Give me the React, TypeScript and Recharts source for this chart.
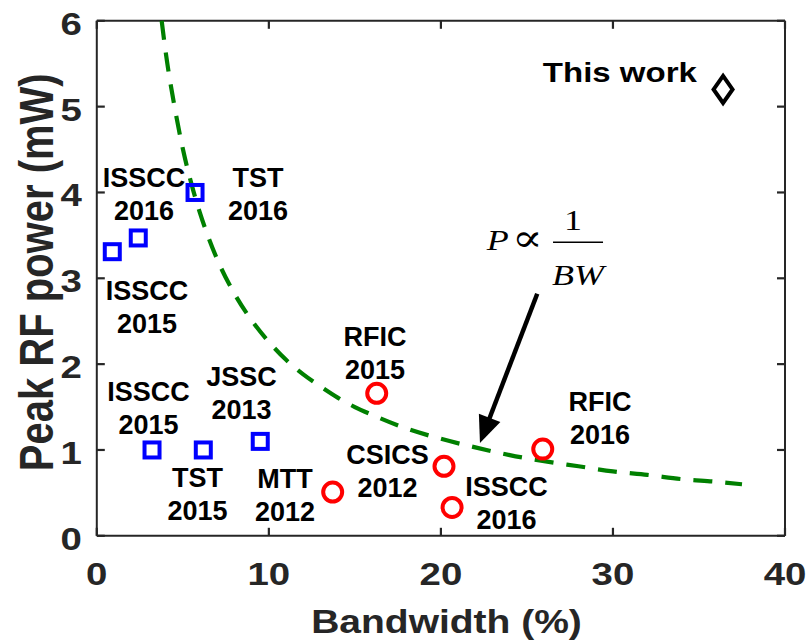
import React from 'react';
import { ScatterChart, Scatter, XAxis, YAxis, ReferenceLine } from 'recharts';

// axis ticks
const xTicks = [0, 10, 20, 30, 40];
const yTicks = [0, 1, 2, 3, 4, 5, 6];

// blue squares (earlier designs)
const squarePoints = [
  { x: 0.9, y: 3.31 },
  { x: 2.41, y: 3.47 },
  { x: 5.71, y: 4.0 },
  { x: 3.21, y: 1.0 },
  { x: 6.19, y: 1.0 },
  { x: 9.5, y: 1.1 },
];

// red circles
const circlePoints = [
  { x: 13.71, y: 0.51 },
  { x: 16.27, y: 1.66 },
  { x: 20.18, y: 0.81 },
  { x: 20.65, y: 0.33 },
  { x: 25.92, y: 1.01 },
];

// this work
const diamondPoints = [{ x: 36.4, y: 5.2 }];

// dashed P ~ 1/BW trend
const fitCurve = [
  { x: 3.77, y: 6.0 },
  { x: 4.0, y: 5.64 },
  { x: 4.5, y: 5.02 },
  { x: 5.0, y: 4.51 },
  { x: 5.5, y: 4.1 },
  { x: 6.0, y: 3.76 },
  { x: 6.5, y: 3.47 },
  { x: 7.0, y: 3.22 },
  { x: 8.0, y: 2.82 },
  { x: 9.0, y: 2.51 },
  { x: 10.0, y: 2.26 },
  { x: 11.0, y: 2.05 },
  { x: 12.0, y: 1.88 },
  { x: 13.0, y: 1.74 },
  { x: 14.0, y: 1.61 },
  { x: 15.0, y: 1.5 },
  { x: 16.0, y: 1.41 },
  { x: 18.0, y: 1.25 },
  { x: 20.0, y: 1.13 },
  { x: 22.0, y: 1.03 },
  { x: 24.0, y: 0.94 },
  { x: 26.0, y: 0.87 },
  { x: 28.0, y: 0.81 },
  { x: 30.0, y: 0.75 },
  { x: 32.0, y: 0.71 },
  { x: 34.0, y: 0.66 },
  { x: 36.0, y: 0.63 },
  { x: 37.5, y: 0.6 },
];

// publication labels (centre of first line)
const pubLabels = [
  { x: 2.75, y: 4.18, lines: ['ISSCC', '2016'] },
  { x: 9.37, y: 4.18, lines: ['TST', '2016'] },
  { x: 2.92, y: 2.86, lines: ['ISSCC', '2015'] },
  { x: 3.0, y: 1.69, lines: ['ISSCC', '2015'] },
  { x: 8.41, y: 1.86, lines: ['JSSC', '2013'] },
  { x: 5.85, y: 0.68, lines: ['TST', '2015'] },
  { x: 10.94, y: 0.67, lines: ['MTT', '2012'] },
  { x: 16.17, y: 2.33, lines: ['RFIC', '2015'] },
  { x: 16.9, y: 0.95, lines: ['CSICS', '2012'] },
  { x: 23.81, y: 0.58, lines: ['ISSCC', '2016'] },
  { x: 29.25, y: 1.57, lines: ['RFIC', '2016'] },
];

const thisWorkLabel = [{ x: 30.4, y: 5.4, text: 'This work' }];
const formulaAnchor = [{ x: 27.97, y: 3.42 }];
const arrowSegment = [
  { x: 25.6, y: 2.82 },
  { x: 22.27, y: 1.08 },
];

// tick mark positions on the four sides of the box
const bottomTickMarks = xTicks.map((t) => ({ x: t, y: 0 }));
const topTickMarks = xTicks.map((t) => ({ x: t, y: 6 }));
const leftTickMarks = yTicks.map((t) => ({ x: 0, y: t }));
const rightTickMarks = yTicks.map((t) => ({ x: 40, y: t }));

const AXIS = '#262626';
const SANS = '"Liberation Sans", Arial, Helvetica, sans-serif';
const SERIF = '"Liberation Serif", "Times New Roman", "DejaVu Serif", serif';
const TICK_LEN = 8;

const XTick = ({ x, y, payload }: any) => (
  <text
    transform={`translate(${x},${y + 49}) scale(1.2,1)`}
    textAnchor="middle"
    fontFamily={SANS}
    fontWeight="bold"
    fontSize={32}
    fill={AXIS}
  >
    {payload.value}
  </text>
);

const YTick = ({ x, y, payload }: any) => (
  <text
    transform={`translate(${x - 15},${y + 14}) scale(1.2,1)`}
    textAnchor="end"
    fontFamily={SANS}
    fontWeight="bold"
    fontSize={32}
    fill={AXIS}
  >
    {payload.value}
  </text>
);

const NoShape = () => <g />;

// inward tick marks (MATLAB style)
const tickMark = (ddx: number, ddy: number) => ({ cx, cy }: any) => (
  <path d={`M${cx},${cy}L${cx + ddx},${cy + ddy}`} stroke={AXIS} strokeWidth={2.2} fill="none" />
);
const BottomMark = tickMark(0, -TICK_LEN);
const TopMark = tickMark(0, TICK_LEN);
const LeftMark = tickMark(TICK_LEN, 0);
const RightMark = tickMark(-TICK_LEN, 0);

const XTitle = (props: any) => {
  const vb = props.viewBox ?? { x: 96.8, y: 535.8, width: 688.2, height: 107.2 };
  return (
    <text
      transform={`translate(${vb.x + vb.width / 2 + 5.6},${vb.y + 97.5}) scale(1.2,1)`}
      textAnchor="middle"
      fontFamily={SANS}
      fontWeight="bold"
      fontSize={32.5}
      fill={AXIS}
    >
      Bandwidth (%)
    </text>
  );
};

const YTitle = (props: any) => {
  const vb = props.viewBox ?? { x: 0, y: 20.8, width: 96.8, height: 515 };
  return (
    <text
      transform={`translate(${vb.x + 53},${vb.y + vb.height / 2 - 6}) scale(1.2,1) rotate(-90)`}
      textAnchor="middle"
      fontFamily={SANS}
      fontWeight="bold"
      fontSize={40}
      fill={AXIS}
    >
      Peak RF power (mW)
    </text>
  );
};

const Square = ({ cx, cy }: any) => (
  <rect x={cx - 7.5} y={cy - 7.5} width={15} height={15} fill="none" stroke="#0000FF" strokeWidth={4} />
);

const Ring = ({ cx, cy }: any) => (
  <circle cx={cx} cy={cy} r={9.5} fill="none" stroke="#FF0000" strokeWidth={4} />
);

const Diamond = ({ cx, cy }: any) => (
  <polygon
    points={`${cx},${cy - 13.5} ${cx + 9.5},${cy} ${cx},${cy + 13.5} ${cx - 9.5},${cy}`}
    fill="none"
    stroke="#000"
    strokeWidth={4}
  />
);

const PubLabel = ({ cx, cy, payload }: any) => (
  <text textAnchor="middle" fontFamily={SANS} fontWeight="bold" fontSize={27} fill="#000">
    {payload.lines.map((t: string, i: number) => (
      <tspan key={i} x={cx} y={cy + 10 + i * 33}>
        {t}
      </tspan>
    ))}
  </text>
);

const ThisWork = ({ cx, cy, payload }: any) => (
  <text
    transform={`translate(${cx},${cy + 10}) scale(1.2,1)`}
    textAnchor="middle"
    fontFamily={SANS}
    fontWeight="bold"
    fontSize={27.5}
    fill="#000"
  >
    {payload.text}
  </text>
);

const Formula = ({ cx, cy }: any) => (
  <g fontFamily={SERIF} fontSize={30} fill="#000">
    <text transform={`translate(${cx - 91.3},${cy + 7.7}) scale(1.2,1)`} fontStyle="italic">
      P
    </text>
    <text transform={`translate(${cx - 66},${cy + 9}) scale(1.2,1)`} fontSize={38}>
      ∝
    </text>
    <text transform={`translate(${cx - 5},${cy - 12.3}) scale(1.2,1)`} textAnchor="middle">
      1
    </text>
    <line x1={cx - 25} y1={cy} x2={cx + 25} y2={cy} stroke="#000" strokeWidth={1.5} />
    <text transform={`translate(${cx},${cy + 42.7}) scale(1.2,1)`} textAnchor="middle" fontStyle="italic">
      BW
    </text>
  </g>
);

const Arrow = (p: any) => {
  const { x1, y1, x2, y2 } = p;
  const dx = x2 - x1;
  const dy = y2 - y1;
  const len = Math.hypot(dx, dy) || 1;
  const ux = dx / len;
  const uy = dy / len;
  const headLen = 27;
  const headW = 11.5;
  const bx = x2 - ux * headLen;
  const by = y2 - uy * headLen;
  const px = -uy;
  const py = ux;
  return (
    <g>
      <line x1={x1} y1={y1} x2={bx + ux * 3} y2={by + uy * 3} stroke="#000" strokeWidth={4.5} />
      <polygon
        points={`${x2},${y2} ${bx + px * headW},${by + py * headW} ${bx - px * headW},${by - py * headW}`}
        fill="#000"
      />
    </g>
  );
};

const App: React.FC = () => {
  return (
    <div style={{ width: 808, height: 643, background: '#fff' }}>
      <style>{'body{margin:0}'}</style>
      <ScatterChart width={808} height={643} margin={{ top: 19.8, right: 22, bottom: 0, left: 0 }}>
        <XAxis
          xAxisId={0}
          dataKey="x"
          type="number"
          domain={[0, 40]}
          ticks={xTicks}
          height={107.2}
          stroke={AXIS}
          strokeWidth={2}
          tickLine={false}
          tickSize={0}
          tickMargin={0}
          tick={XTick}
          label={XTitle}
        />
        <XAxis
          xAxisId="top"
          orientation="top"
          dataKey="x"
          type="number"
          domain={[0, 40]}
          ticks={xTicks}
          height={1}
          stroke={AXIS}
          strokeWidth={2}
          tickLine={false}
          tick={NoShape}
        />
        <YAxis
          yAxisId={0}
          dataKey="y"
          type="number"
          domain={[0, 6]}
          ticks={yTicks}
          width={96.8}
          stroke={AXIS}
          strokeWidth={2}
          tickLine={false}
          tickSize={0}
          tickMargin={0}
          tick={YTick}
          label={YTitle}
        />
        <YAxis
          yAxisId="right"
          orientation="right"
          dataKey="y"
          type="number"
          domain={[0, 6]}
          ticks={yTicks}
          width={1}
          stroke={AXIS}
          strokeWidth={2}
          tickLine={false}
          tick={NoShape}
        />

        <Scatter data={bottomTickMarks} shape={BottomMark} isAnimationActive={false} />
        <Scatter data={topTickMarks} shape={TopMark} isAnimationActive={false} />
        <Scatter data={leftTickMarks} shape={LeftMark} isAnimationActive={false} />
        <Scatter data={rightTickMarks} shape={RightMark} isAnimationActive={false} />

        <Scatter
          data={fitCurve}
          line={{ stroke: '#008000', strokeWidth: 4.2, strokeDasharray: '19 13' }}
          lineType="joint"
          lineJointType="monotoneX"
          shape={NoShape}
          isAnimationActive={false}
        />
        <Scatter data={squarePoints} shape={Square} isAnimationActive={false} />
        <Scatter data={circlePoints} shape={Ring} isAnimationActive={false} />
        <Scatter data={diamondPoints} shape={Diamond} isAnimationActive={false} />
        <Scatter data={pubLabels} shape={PubLabel} isAnimationActive={false} />
        <Scatter data={thisWorkLabel} shape={ThisWork} isAnimationActive={false} />
        <Scatter data={formulaAnchor} shape={Formula} isAnimationActive={false} />
        <ReferenceLine segment={arrowSegment} shape={Arrow} />
      </ScatterChart>
    </div>
  );
};

export default App;
